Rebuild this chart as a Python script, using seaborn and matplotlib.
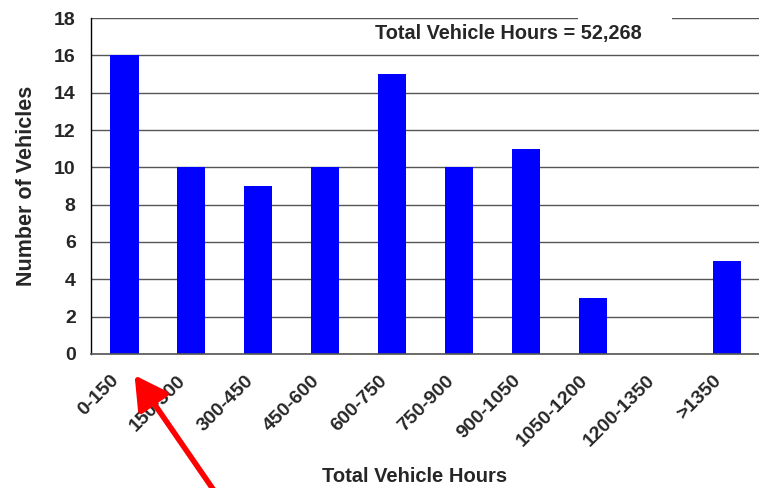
import matplotlib
matplotlib.use('Agg')
import matplotlib.pyplot as plt
import matplotlib.transforms as mtransforms
from matplotlib.patches import Rectangle, FancyArrowPatch
import seaborn as sns
import numpy as np
import pandas as pd

# data
categories = ['0-150', '150-300', '300-450', '450-600', '600-750', '750-900',
              '900-1050', '1050-1200', '1200-1350', '>1350']
vehicles = [16, 10, 9, 10, 15, 10, 11, 3, 0, 5]
y_ticks = list(range(0, 19, 2))

df = pd.DataFrame({'range': categories, 'count': vehicles})

sns.set_style('white')
plt.rcParams['font.family'] = ['Liberation Sans', 'DejaVu Sans']
plt.rcParams['font.weight'] = 'bold'

fig = plt.figure(figsize=(7.59, 4.88), dpi=100)
ax = fig.add_axes([0.1199, 0.2746, 0.882, 0.6885])

sns.barplot(data=df, x='range', y='count', color='#0000FF', width=0.42,
            saturation=1, linewidth=0, ax=ax)

ax.set_xlim(-0.5, len(categories) - 0.5)
ax.set_ylim(0, 18)
ax.set_yticks(y_ticks)
ax.yaxis.grid(True, color='#555555', linewidth=1)
ax.set_axisbelow(True)

for s in ['top', 'right']:
    ax.spines[s].set_visible(False)
ax.spines['left'].set_color('black')
ax.spines['bottom'].set_color('#555555')
ax.spines['left'].set_linewidth(1)
ax.spines['bottom'].set_linewidth(1.2)

# tick marks at category boundaries, labels at centres
ax.set_xticks(np.arange(len(categories)))
ax.set_xticklabels(categories, rotation=45, ha='right', rotation_mode='anchor',
                   fontsize=14, fontweight='bold')
ax.set_xticks(np.arange(len(categories)) - 0.5, minor=True)
ax.tick_params(axis='x', which='major', length=0, pad=13)
ax.tick_params(axis='x', which='minor', length=6, width=1, color='#555555', direction='out')
ax.tick_params(axis='y', length=7, width=1, color='#555555', direction='out',
               labelsize=14, pad=4)
for lab in ax.get_yticklabels():
    lab.set_fontweight('bold')
offset = mtransforms.ScaledTranslation(-14 / 100, 0, fig.dpi_scale_trans)
for lab in ax.get_xticklabels():
    lab.set_transform(lab.get_transform() + offset)

ax.set_xlabel('Total Vehicle Hours', fontsize=14.5, fontweight='bold')
ax.set_ylabel('Number of Vehicles', fontsize=15.5, fontweight='bold')
ax.xaxis.set_label_coords(0.483, -0.336)
ax.yaxis.set_label_coords(-0.080, 0.5)

# white box over top gridline and annotation
fig.patches.append(Rectangle((578 / 759, 1 - 26 / 488), 94 / 759, 14 / 488,
                             transform=fig.transFigure, facecolor='white',
                             edgecolor='none', zorder=5))
fig.text(375 / 759, 1 - 34 / 488, 'Total Vehicle Hours = 52,268', fontsize=14.3,
         fontweight='bold', va='center', ha='left', zorder=6)

# red arrow
arrow = FancyArrowPatch((215 / 759, 1 - 492 / 488), (133 / 759, 1 - 373 / 488),
                        transform=fig.transFigure, arrowstyle='-|>,head_length=9,head_width=5',
                        mutation_scale=2.2, color='#FF0000', linewidth=4, zorder=7)
fig.patches.append(arrow)

fig.savefig('out.png', dpi=100)
